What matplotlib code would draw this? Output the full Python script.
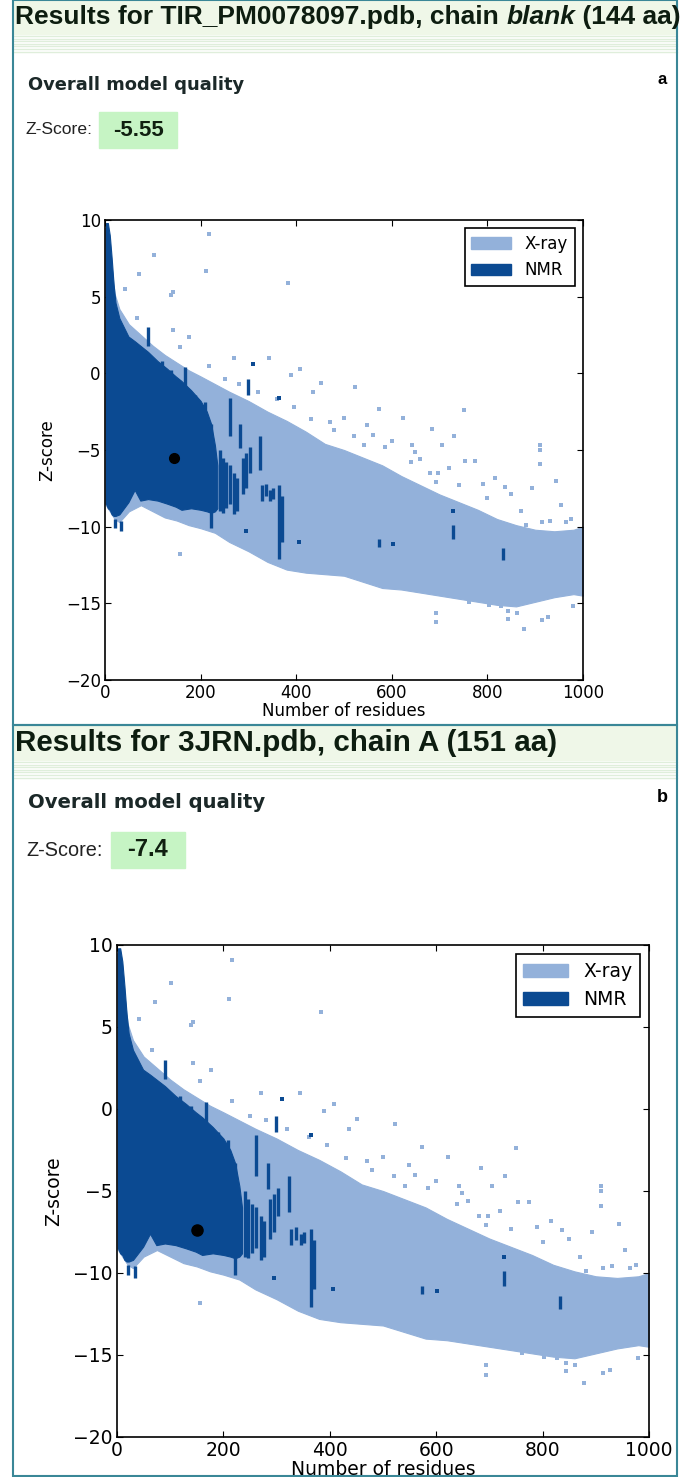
import numpy as np
import matplotlib
matplotlib.use("Agg")
import matplotlib.pyplot as plt
from matplotlib.patches import Patch, Rectangle

# ---- data (same database cloud in both panels) ----
# dense X-ray cloud: envelope per number of residues
xray_x = [0, 10, 20, 30, 50, 75, 100, 125, 150, 175, 200, 230, 260, 300, 340, 380,
          420, 460, 500, 540, 580, 620, 660, 700, 740, 780, 820, 860, 900, 940, 980, 1000]
xray_hi = [9.5, 8.0, 5.2, 4.2, 3.2, 2.5, 1.8, 1.2, 0.7, 0.2, -0.2, -0.7, -1.2, -1.8, -2.5, -3.1,
           -3.8, -4.6, -5.0, -5.5, -6.0, -6.7, -7.3, -7.9, -8.4, -8.9, -9.5, -9.9, -10.2, -10.3, -10.2, -10.0]
xray_lo = [-8.5, -9.0, -9.5, -9.7, -9.0, -8.6, -9.0, -9.4, -9.6, -9.9, -10.1, -10.4, -11.0, -11.6, -12.3, -12.8,
           -13.0, -13.1, -13.2, -13.6, -14.0, -14.1, -14.3, -14.5, -14.7, -14.9, -15.1, -15.2, -14.9, -14.6, -14.4, -14.5]

# scattered X-ray structures outside the dense cloud
xray_pts_x = [217, 102, 211, 71, 383, 143, 139, 41, 66, 142, 176, 156, 270, 344, 217, 408, 389, 451,
              522, 436, 574, 623, 750, 549, 684, 730, 910, 643, 705, 500, 541, 754, 775, 816, 910, 910,
              943, 893, 836, 975, 992, 881, 914, 693, 697, 648, 156, 693, 693, 762, 803, 844, 844, 877,
              914, 926, 980, 992, 779, 828, 861, 470, 600, 560, 660, 720, 790, 850, 955, 985, 1000,
              250, 280, 320, 360, 395, 430, 480, 520, 585, 640, 680, 740, 800, 870, 930, 965,
              990, 945, 905, 955, 875]
xray_pts_z = [9.1, 7.7, 6.7, 6.5, 5.9, 5.3, 5.1, 5.5, 3.6, 2.8, 2.4, 1.7, 1.0, 1.0, 0.5, 0.3, -0.1, -0.6,
              -0.9, -1.2, -2.3, -2.9, -2.4, -3.4, -3.6, -4.1, -4.7, -4.7, -4.7, -2.9, -4.7, -5.7, -5.7, -6.8, -5.0, -5.9,
              -7.0, -7.5, -7.4, -9.5, -10.3, -9.9, -9.7, -7.1, -6.5, -5.1, -11.8, -15.6, -16.2, -14.9, -15.1, -15.5, -16.0, -16.7,
              -16.1, -15.9, -15.2, -14.2, -14.2, -15.2, -15.6, -3.2, -4.4, -4.0, -5.6, -6.2, -7.2, -7.9, -8.6, -11.5, -12.5,
              -0.4, -0.7, -1.2, -1.7, -2.2, -3.0, -3.7, -4.1, -4.8, -5.8, -6.5, -7.3, -8.1, -9.0, -9.6, -9.7,
              -12.0, -12.8, -13.5, -13.9, -14.2]

# NMR cloud
nmr_x = [2, 6, 10, 14, 18, 22, 30, 49, 62, 74, 90, 110, 130, 148, 160, 180, 200, 213, 222, 230, 235]
nmr_hi = [9.8, 9.8, 9.0, 7.5, 5.8, 4.6, 3.6, 2.4, 2.1, 1.8, 1.4, 0.8, 0.3, -0.2, -0.5, -1.1, -1.8, -2.5, -3.3, -4.7, -6.0]
nmr_lo = [-8.5, -8.8, -8.9, -9.2, -9.3, -9.3, -9.2, -8.4, -7.6, -8.3, -8.2, -8.3, -8.5, -8.7, -8.9, -8.8, -8.9, -9.0, -9.1, -9.0, -8.8]

# NMR ensembles (vertical streaks): x, lowest z, highest z
bar_x = [90, 119, 139, 168, 189, 209, 221, 262, 283, 299, 324, 240, 247, 254, 261, 270, 277,
         288, 296, 303, 328, 336, 345, 352, 365, 370, 574, 727, 832, 21, 33, 221]
bar_lo = [1.8, -0.2, -0.6, -1.2, -2.3, -3.1, -4.1, -4.1, -4.9, -1.4, -6.3, -9.0, -9.1, -8.8, -8.5, -9.2, -9.0,
          -7.9, -7.5, -6.5, -8.3, -8.0, -8.3, -8.2, -12.1, -11.0, -11.3, -10.8, -12.2, -10.1, -10.3, -10.1]
bar_hi = [3.0, 0.8, 0.2, 0.4, -1.4, -1.9, -3.3, -1.6, -3.3, -0.4, -4.1, -5.0, -5.5, -5.8, -6.0, -6.5, -6.8,
          -5.5, -5.2, -4.8, -7.3, -7.2, -7.6, -7.5, -7.3, -8.0, -10.8, -9.9, -11.4, -9.5, -9.6, -9.0]
dot_x = [295, 406, 602, 727, 310, 365]
dot_z = [-10.3, -11.0, -11.1, -9.0, 0.6, -1.6]

title_a = [("Results for TIR_PM0078097.pdb, chain ", "normal"), ("blank", "italic"), (" (144 aa)", "normal")]
title_b = [("Results for 3JRN.pdb, chain A (151 aa)", "normal")]
letters = ["a", "b"]
zscores = ["-5.55", "-7.4"]
query_n = [144, 151]
query_z = [-5.55, -7.4]

xray_c = "#93b1da"
nmr_c = "#0b4a92"
teal = "#3a8797"
W, H = 680, 1477

fig = plt.figure(figsize=(W / 100, H / 100), dpi=100)
bg = fig.add_axes([0, 0, 1, 1])
bg.set_xlim(0, W)
bg.set_ylim(H, 0)
bg.axis("off")


def header(y0, parts, letter, zs, ovy, zy, zlab_x, box, fs):
    tfs, ofs, lfs, zfs, vfs = fs
    bg.add_patch(Rectangle((13, y0), 664, 34, color="#eff7e8", zorder=0))
    for k in range(7):
        bg.axhline(y0 + 36 + k * 2.6, xmin=13 / W, xmax=677 / W, color="#dfeedb", lw=1, zorder=0)
    x = 15
    for txt, st in parts:
        t = bg.text(x, y0 + 17, txt, fontsize=tfs, fontweight="bold", style=st,
                    family="Liberation Sans", color="#0d1d10", va="center", ha="left")
        fig.canvas.draw()
        bb = t.get_window_extent()
        x = bg.transData.inverted().transform((bb.x1, bb.y0))[0]
    bg.text(28, ovy, "Overall model quality", fontsize=ofs, fontweight="bold",
            family="DejaVu Sans", color="#1b2828", va="center")
    bg.text(662, ovy - 5, letter, fontsize=lfs, fontweight="bold", family="Liberation Sans",
            va="center", ha="center")
    bg.text(zlab_x, zy, "Z-Score:", fontsize=zfs, family="Liberation Sans", color="#222222", va="center")
    bx0, bx1 = box
    bg.add_patch(Rectangle((bx0, zy - 18), bx1 - bx0, 36, color="#c6f4c4", zorder=1))
    bg.text((bx0 + bx1) / 2, zy, zs, fontsize=vfs, fontweight="bold", family="Liberation Sans",
            color="#102010", va="center", ha="center", zorder=2)


def panel(box, fs, qn, qz, qs):
    l, t, r, b = box
    ax = fig.add_axes([l / W, 1 - b / H, (r - l) / W, (b - t) / H])
    ax.fill_between(xray_x, xray_lo, xray_hi, color=xray_c, lw=0.8, zorder=1)
    ax.plot(xray_pts_x, xray_pts_z, "s", ms=2.2, mew=0, color=xray_c, zorder=1)
    ax.fill_between(nmr_x, nmr_lo, nmr_hi, color=nmr_c, lw=0.8, zorder=2)
    ax.vlines(bar_x, bar_lo, bar_hi, color=nmr_c, lw=2.4, zorder=3)
    ax.plot(dot_x, dot_z, "s", ms=2.4, mew=0, color=nmr_c, zorder=3)
    ax.plot([qn], [qz], "o", ms=qs, color="black", zorder=4)
    ax.set_xlim(0, 1000)
    ax.set_ylim(-20, 10)
    ax.set_xticks([0, 200, 400, 600, 800, 1000])
    ax.set_yticks([-20, -15, -10, -5, 0, 5, 10])
    ax.tick_params(direction="in", top=True, right=True, length=4, labelsize=fs, pad=3)
    for s in ax.spines.values():
        s.set_linewidth(1.2)
    ax.set_xlabel("Number of residues", fontsize=fs, labelpad=0)
    ax.set_ylabel("Z-score", fontsize=fs, labelpad=7)
    handles = [Patch(facecolor=xray_c, edgecolor=xray_c, label="X-ray"),
               Patch(facecolor=nmr_c, edgecolor=nmr_c, label="NMR")]
    leg = ax.legend(handles=handles, loc="upper right", fontsize=fs, fancybox=False,
                    framealpha=1, edgecolor="black", handlelength=2.4, handleheight=0.7,
                    borderaxespad=0.5)
    leg.get_frame().set_linewidth(1.2)
    return ax


# outer frames
bg.add_patch(Rectangle((13, 0), 664, 725, fill=False, ec=teal, lw=1.5))
bg.add_patch(Rectangle((13, 725), 664, 751, fill=False, ec=teal, lw=1.5))

header(0, title_a, letters[0], zscores[0], 85, 130, 26, (99, 177), (19, 12.9, 12, 12.6, 16))
header(726, title_b, letters[1], zscores[1], 802, 850, 26, (111, 185), (21.3, 14.1, 13, 14.3, 17))

panel((105, 220, 583, 680), 12, query_n[0], query_z[0], 7)
panel((117, 945, 649, 1437), 13.5, query_n[1], query_z[1], 8)

fig.savefig("out.png", dpi=100)
